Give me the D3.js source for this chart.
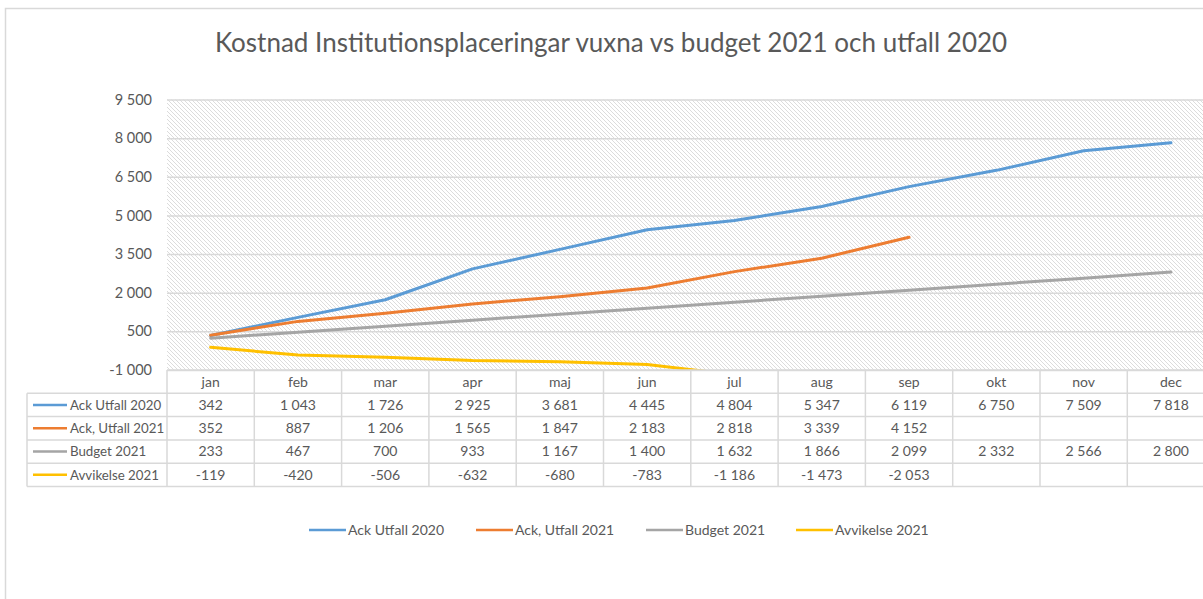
<!DOCTYPE html>
<html>
<head>
<meta charset="utf-8">
<script src="https://cdn.jsdelivr.net/npm/d3@7"></script>
<style>
  body { margin: 0; background: #fff; }
  svg { display: block; font-family: Lato, "Noto Sans", sans-serif; }
</style>
</head>
<body>
<svg></svg>
<script>
// data
const months = ["jan", "feb", "mar", "apr", "maj", "jun", "jul", "aug", "sep", "okt", "nov", "dec"];
const ackUtfall2020 = [342, 1043, 1726, 2925, 3681, 4445, 4804, 5347, 6119, 6750, 7509, 7818];
const ackUtfall2021 = [352, 887, 1206, 1565, 1847, 2183, 2818, 3339, 4152, null, null, null];
const budget2021 = [233, 467, 700, 933, 1167, 1400, 1632, 1866, 2099, 2332, 2566, 2800];
const avvikelse2021 = [-119, -420, -506, -632, -680, -783, -1186, -1473, -2053, null, null, null];
const seriesNames = ["Ack Utfall 2020", "Ack, Utfall 2021", "Budget 2021", "Avvikelse 2021"];
const seriesColors = ["#5b9bd5", "#ed7d31", "#a5a5a5", "#ffc000"];
const yTicks = [-1000, 500, 2000, 3500, 5000, 6500, 8000, 9500];

const series = [ackUtfall2020, ackUtfall2021, budget2021, avvikelse2021].map((vals, i) => ({
  name: seriesNames[i], color: seriesColors[i], values: vals
}));

var w = 1203;
var h = 599;
const textColor = "#595959";
const gridColor = "#d9d9d9";

const svg = d3.select("svg").attr("width", w).attr("height", h);

const sv = d3.formatLocale({ decimal: ",", thousands: "\u00a0", grouping: [3], currency: ["", ""], minus: "-" });
const fmt = sv.format(",d");

// outer chart border
svg.append("rect")
  .attr("x", 5.5).attr("y", 8.5)
  .attr("width", 1220).attr("height", 620)
  .attr("fill", "none").attr("stroke", gridColor).attr("stroke-width", 1.5);

// title
svg.append("text")
  .attr("x", 611).attr("y", 52)
  .attr("text-anchor", "middle")
  .attr("fill", textColor)
  .style("font-size", "26px")
  .text("Kostnad Institutionsplaceringar vuxna vs budget 2021 och utfall 2020");

const plotLeft = 167, plotRight = 1214.6, plotTop = 99.5, plotBottom = 370;

let xScale = d3.scaleBand()
  .domain(months)
  .range([plotLeft, plotRight]);
let yScale = d3.scaleLinear()
  .domain([-1000, 9500])
  .range([plotBottom, plotTop]);

// hatch pattern for the plot area
const defs = svg.append("defs");
const pat = defs.append("pattern")
  .attr("id", "hatch")
  .attr("patternUnits", "userSpaceOnUse")
  .attr("width", 4).attr("height", 4);
pat.append("path")
  .attr("d", "M-1,-1 l2,2 M0,0 l4,4 M3,3 l2,2")
  .attr("stroke", "#dcdcdc").attr("stroke-width", 1);

defs.append("clipPath").attr("id", "plotclip")
  .append("rect")
  .attr("x", plotLeft).attr("y", plotTop)
  .attr("width", plotRight - plotLeft).attr("height", plotBottom - plotTop);

svg.append("rect")
  .attr("x", plotLeft).attr("y", plotTop)
  .attr("width", plotRight - plotLeft).attr("height", plotBottom - plotTop)
  .attr("fill", "url(#hatch)");

// gridlines + y labels
const yAxis = d3.axisLeft(yScale)
  .tickValues(yTicks)
  .tickFormat(fmt)
  .tickSize(-(plotRight - plotLeft))
  .tickPadding(15);
const yAxisG = svg.append("g")
  .attr("transform", `translate(${plotLeft},0)`)
  .call(yAxis);
yAxisG.select(".domain").remove();
yAxisG.selectAll("line").attr("stroke", gridColor).attr("stroke-width", 1.5);
yAxisG.selectAll("text")
  .attr("fill", textColor)
  .style("font-size", "14.5px")
  .style("font-family", "Lato, 'Noto Sans', sans-serif");

// lines
const line = d3.line()
  .defined(d => d.v != null)
  .x(d => xScale(d.m) + xScale.bandwidth() / 2)
  .y(d => yScale(d.v));

svg.append("g").attr("clip-path", "url(#plotclip)")
  .selectAll("path")
  .data(series)
  .join("path")
  .attr("d", s => line(s.values.map((v, i) => ({ m: months[i], v: v }))))
  .attr("fill", "none")
  .attr("stroke", s => s.color)
  .attr("stroke-width", 3)
  .attr("stroke-linejoin", "round")
  .attr("stroke-linecap", "round");

// data table
const rowH = 23.3;
const headTop = plotBottom;
const labelLeft = 27;
const table = svg.append("g");
const tableBottom = headTop + rowH * 5;

// horizontal lines
table.append("line")
  .attr("x1", plotLeft).attr("x2", plotRight)
  .attr("y1", headTop).attr("y2", headTop);
d3.range(1, 6).forEach(r => {
  table.append("line")
    .attr("x1", labelLeft).attr("x2", plotRight)
    .attr("y1", headTop + r * rowH).attr("y2", headTop + r * rowH);
});
// vertical lines
table.append("line")
  .attr("x1", labelLeft).attr("x2", labelLeft)
  .attr("y1", headTop + rowH).attr("y2", tableBottom);
months.forEach(m => {
  table.append("line")
    .attr("x1", xScale(m)).attr("x2", xScale(m))
    .attr("y1", headTop).attr("y2", tableBottom);
});
table.selectAll("line").attr("stroke", gridColor).attr("stroke-width", 1.5);

// month header
table.selectAll("text.month")
  .data(months)
  .join("text")
  .attr("class", "month")
  .attr("x", m => xScale(m) + xScale.bandwidth() / 2)
  .attr("y", headTop + rowH / 2)
  .attr("dy", "0.35em")
  .attr("text-anchor", "middle")
  .attr("fill", textColor)
  .style("font-size", "14px")
  .text(m => m);

series.forEach((s, r) => {
  const yMid = headTop + rowH * (r + 1) + rowH / 2;
  table.append("line")
    .attr("x1", 33).attr("x2", 67)
    .attr("y1", yMid).attr("y2", yMid)
    .attr("stroke", s.color).attr("stroke-width", 2.5);
  table.append("text")
    .attr("x", 70).attr("y", yMid).attr("dy", "0.35em")
    .attr("fill", textColor)
    .style("font-size", "13.3px")
    .text(s.name);
  table.selectAll(null)
    .data(s.values.map((v, i) => ({ m: months[i], v: v })).filter(d => d.v != null))
    .join("text")
    .attr("x", d => xScale(d.m) + xScale.bandwidth() / 2)
    .attr("y", yMid).attr("dy", "0.35em")
    .attr("text-anchor", "middle")
    .attr("fill", textColor)
    .style("font-size", "14px")
    .text(d => fmt(d.v));
});

// legend
const legendX = [309, 476, 646, 796];
const legend = svg.append("g").attr("transform", "translate(0,530)");
series.forEach((s, i) => {
  legend.append("line")
    .attr("x1", legendX[i]).attr("x2", legendX[i] + 37)
    .attr("y1", 0).attr("y2", 0)
    .attr("stroke", s.color).attr("stroke-width", 2.5);
  legend.append("text")
    .attr("x", legendX[i] + 39).attr("y", 0).attr("dy", "0.35em")
    .attr("fill", textColor)
    .style("font-size", "14px")
    .text(s.name);
});
</script>
</body>
</html>
